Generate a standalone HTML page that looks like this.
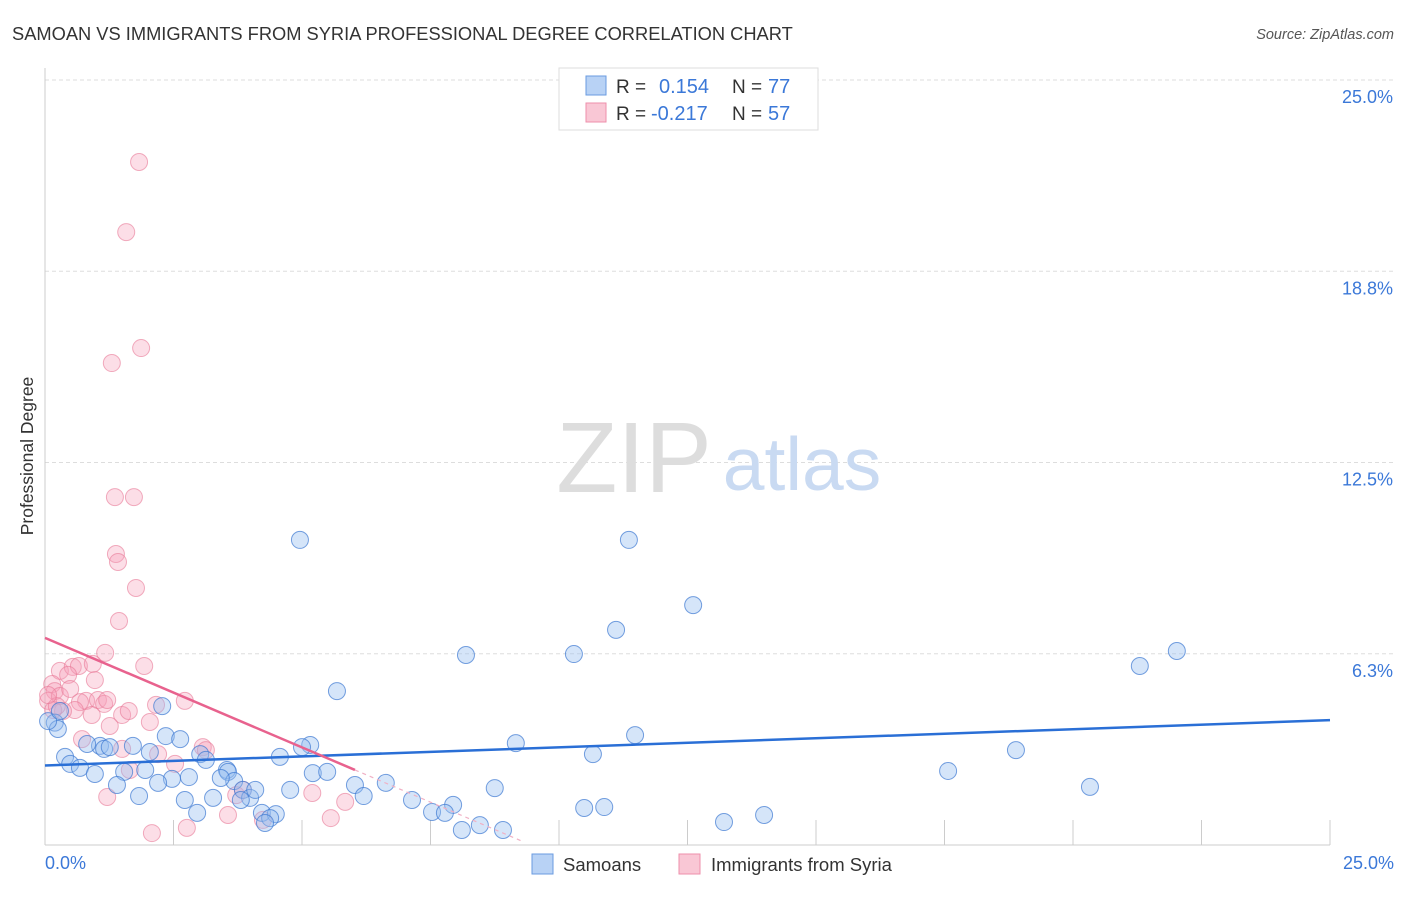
<!DOCTYPE html>
<html><head><meta charset="utf-8"><style>
body{margin:0;background:#fff;font-family:"Liberation Sans",sans-serif;}
svg text{font-family:"Liberation Sans",sans-serif;}
</style></head><body>
<svg id="chart" width="1406" height="892">
<text x="12" y="40" font-size="18.3" fill="#333">SAMOAN VS IMMIGRANTS FROM SYRIA PROFESSIONAL DEGREE CORRELATION CHART</text>
<text x="1394" y="39" font-size="14.5" fill="#555" font-style="italic" text-anchor="end">Source: ZipAtlas.com</text>
<g id="grid"></g>
<text x="634" y="492" font-size="100" fill="#ddd" font-family="Liberation Serif,serif" text-anchor="middle">ZIP</text>
<text x="802" y="490" font-size="75" fill="#c9daf2" text-anchor="middle">atlas</text>
<g id="marks"></g>
<text transform="translate(33,456) rotate(-90)" font-size="17.5" fill="#333" text-anchor="middle">Professional Degree</text>
<text x="45" y="869" font-size="18" fill="#3b78d8">0.0%</text>
<text x="1394" y="869" font-size="18" fill="#3b78d8" text-anchor="end">25.0%</text>
<g>
<rect x="559" y="68" width="259" height="62" fill="#fff" stroke="#ddd"/>
<rect x="586" y="76" width="20" height="19" fill="#b8d2f5" stroke="#6a9be0"/>
<rect x="586" y="103" width="20" height="19" fill="#f9c7d5" stroke="#ee8fab"/>
<text x="616" y="93" font-size="19" fill="#333">R = </text><text x="659" y="93" font-size="20" fill="#3b78d8">0.154</text>
<text x="732" y="93" font-size="19" fill="#333">N = </text><text x="768" y="93" font-size="20" fill="#3b78d8">77</text>
<text x="616" y="120" font-size="19" fill="#333">R = </text><text x="651" y="120" font-size="20" fill="#3b78d8">-0.217</text>
<text x="732" y="120" font-size="19" fill="#333">N = </text><text x="768" y="120" font-size="20" fill="#3b78d8">57</text>
</g>
<g>
<rect x="532" y="854" width="21" height="20" fill="#b8d2f5" stroke="#6a9be0"/>
<text x="563" y="871" font-size="18.5" fill="#333">Samoans</text>
<rect x="679" y="854" width="21" height="20" fill="#f9c7d5" stroke="#ee8fab"/>
<text x="711" y="871" font-size="18.5" fill="#333">Immigrants from Syria</text>
</g>
</svg>
<script>
const yTicks=[6.25,12.5,18.75,25];
const yTickLabels=["6.3%","12.5%","18.8%","25.0%"];
const xTicks=[2.5,5,7.5,10,12.5,15,17.5,20,22.5,25];
const blueX=[4.96,11.36,12.61,11.11,8.19,10.29,22.02,21.3,5.68,2.28,0.19,0.25,2.35,2.63,5.16,5.0,1.71,1.07,1.15,0.82,0.39,0.49,0.68,0.97,2.04,3.02,3.13,3.54,4.57,3.56,2.8,2.47,3.68,1.54,1.95,1.4,3.42,2.2,5.21,5.49,6.63,6.03,6.2,4.77,3.85,3.99,3.27,2.72,1.83,2.96,4.22,4.49,4.38,4.28,7.14,7.94,7.53,7.78,8.11,8.46,8.91,8.75,9.16,10.66,11.48,10.49,10.88,13.21,13.99,17.57,18.89,20.33,0.06,0.29,1.26,4.09,3.81];
const blueY=[9.97,9.97,7.84,7.03,6.21,6.24,6.34,5.85,5.03,4.54,4.0,3.79,3.56,3.46,3.27,3.2,3.24,3.24,3.14,3.3,2.88,2.65,2.52,2.32,3.04,2.97,2.78,2.45,2.88,2.39,2.22,2.16,2.09,2.39,2.45,1.96,2.19,2.03,2.35,2.39,2.03,1.96,1.6,1.8,1.8,1.54,1.54,1.47,1.6,1.05,1.05,1.01,0.88,0.72,1.47,1.31,1.08,1.05,0.49,0.65,0.49,1.86,3.33,2.97,3.59,1.21,1.24,0.75,0.98,2.42,3.1,1.9,4.05,4.38,3.2,1.8,1.47];
const pinkX=[1.83,1.58,1.87,1.3,1.36,1.73,1.38,1.42,1.77,1.44,1.17,1.93,0.29,0.54,0.66,0.93,0.45,0.14,0.19,0.97,0.06,0.29,0.49,0.8,1.03,1.15,0.68,0.58,0.91,0.35,0.16,0.23,1.5,1.63,2.04,2.72,2.16,1.26,0.72,1.5,3.07,2.2,2.53,1.65,3.72,3.85,5.2,5.84,1.21,2.76,3.56,5.56,2.08,0.06,1.21,3.13,4.24];
const pinkY=[22.32,20.03,16.24,15.75,11.37,11.37,9.51,9.25,8.4,7.32,6.28,5.85,5.69,5.82,5.85,5.92,5.56,5.26,5.03,5.39,4.71,4.87,5.1,4.71,4.74,4.61,4.67,4.41,4.25,4.38,4.41,4.54,4.25,4.38,4.02,4.71,4.58,3.89,3.46,3.14,3.2,2.97,2.65,2.45,1.63,1.8,1.7,1.41,1.57,0.56,0.98,0.88,0.39,4.9,4.74,3.1,0.82];
const blueTrend=[2.6,4.08];
const pinkTrend=[6.77,-0.716];
const pinkSolidEnd=6.03, pinkDashEnd=9.3;

const X0=45,X1=1330,Y0=845,Y1=80;
const sx=v=>X0+(X1-X0)*v/25, sy=v=>Y0-(Y0-Y1)*v/25;
const NS="http://www.w3.org/2000/svg";
function mk(tag,attrs,parent){const e=document.createElementNS(NS,tag);for(const k in attrs)e.setAttribute(k,attrs[k]);parent.appendChild(e);return e;}
const grid=document.getElementById('grid'), marks=document.getElementById('marks');
yTicks.forEach((t,i)=>{
  const l=mk('line',{x1:X0,x2:1394,y1:sy(t),y2:sy(t),stroke:'#ddd','stroke-dasharray':'4,3'},grid);
  
  
  const tx=mk('text',{x:1393,y:sy(t)+23,'font-size':18,fill:'#3b78d8','text-anchor':'end'},grid);
  tx.textContent=yTickLabels[i];
  
  
});
xTicks.forEach(t=>{
  const l=mk('line',{x1:sx(t),x2:sx(t),y1:Y0-25,y2:Y0,stroke:'#ccc'},grid);
  
  
});
let a=mk('line',{x1:X0,x2:X0,y1:68,y2:Y0,stroke:'#ccc'},grid);


a=mk('line',{x1:X0,x2:X1,y1:Y0,y2:Y0,stroke:'#ccc'},grid);


pinkX.forEach((x,i)=>{
  const c=mk('circle',{cx:sx(x),cy:sy(pinkY[i]),r:8.5,fill:'rgba(246,160,185,0.35)',stroke:'rgba(232,120,150,0.6)','stroke-width':1},marks);
  
  
});
blueX.forEach((x,i)=>{
  const c=mk('circle',{cx:sx(x),cy:sy(blueY[i]),r:8.5,fill:'rgba(150,190,240,0.4)',stroke:'rgba(60,120,210,0.7)','stroke-width':1},marks);
  
  
});
let t=mk('line',{x1:sx(0),y1:sy(blueTrend[0]),x2:sx(25),y2:sy(blueTrend[1]),stroke:'#2a6fd6','stroke-width':2.5},marks);


const pf=x=>pinkTrend[0]+pinkTrend[1]*x;
t=mk('line',{x1:sx(0),y1:sy(pf(0)),x2:sx(pinkSolidEnd),y2:sy(pf(pinkSolidEnd)),stroke:'#e8628e','stroke-width':2.5},marks);


t=mk('line',{x1:sx(pinkSolidEnd),y1:sy(pf(pinkSolidEnd)),x2:sx(pinkDashEnd),y2:sy(pf(pinkDashEnd)),stroke:'#f0b0c4','stroke-width':1.2,'stroke-dasharray':'4,4'},marks);


</script>
</body></html>
